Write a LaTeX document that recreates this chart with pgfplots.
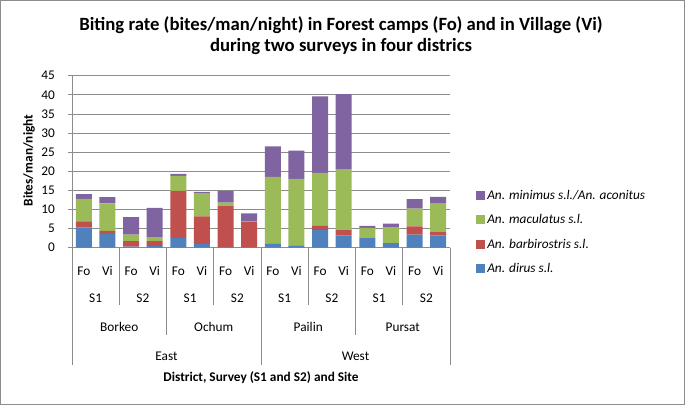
\documentclass[border=0pt]{standalone}
\usepackage{fontspec}
\setmainfont{Carlito}
\usepackage{pgfplots}
\pgfplotsset{compat=1.18}
\definecolor{cblue}{HTML}{4F81BD}
\definecolor{cred}{HTML}{C0504D}
\definecolor{cgreen}{HTML}{9BBB59}
\definecolor{cpurple}{HTML}{8064A2}
\definecolor{gridc}{HTML}{8C8C8C}
\newcommand{\tf}{\fontsize{13.3}{16}\selectfont}
\begin{document}
\begin{tikzpicture}
\path[use as bounding box] (0pt,0pt) rectangle (685pt,405pt);
\draw[color=gridc, line width=0.8pt] (0.5pt,0.5pt) rectangle (684.5pt,404.5pt);
\node[align=center, font=\fontsize{18.7}{20.7}\selectfont\bfseries] at (341pt,369.6pt)
  {Biting rate (bites/man/night) in Forest camps (Fo) and in Village (Vi)\\during two surveys in four districs};
\node[rotate=90, font=\tf\bfseries] at (29pt,244.5pt) {Bites/man/night};
\begin{axis}[
  at={(72pt,157.3pt)}, anchor=south west,
  scale only axis, width=378pt, height=172pt,
  xmin=-0.5, xmax=15.5, ymin=0, ymax=45,
  enlargelimits=false, clip=false,
  ybar stacked, bar width=16pt,
  ytick={0,5,...,45},
  xtick={0,...,15},
  xticklabels={Fo,Vi,Fo,Vi,Fo,Vi,Fo,Vi,Fo,Vi,Fo,Vi,Fo,Vi,Fo,Vi},
  xticklabel style={anchor=base, yshift=-23.5pt, inner sep=0pt},
  yticklabel style={anchor=east, inner sep=0pt, xshift=-13pt},
  /pgf/number format/assume math mode=true,
  tick label style={font=\tf},
  axis x line*=bottom, axis y line*=left,
  axis line style={gridc, line width=0.8pt, -},
  x tick style={draw=none},
  y tick style={gridc, line width=0.8pt},
  tick align=outside, major tick length=4pt,
  ymajorgrids, grid style={gridc, line width=0.8pt},
  legend style={draw=none, fill=none, at={(1.069,0.091)}, anchor=west,
    font=\tf\itshape, row sep=9.5pt, inner sep=0pt},
  legend cell align=left,
  reverse legend,
  legend image code/.code={\fill[#1, draw=none] (0pt,-4.5pt) rectangle (9pt,4.5pt);},
]
\addplot[fill=cblue, draw=none] coordinates {(0,5.3) (1,3.6) (2,0.3) (3,0.5) (4,2.5) (5,1.0) (6,0.2) (7,0.1) (8,1.1) (9,0.6) (10,4.6) (11,3.2) (12,2.5) (13,1.2) (14,3.4) (15,3.2)};
\addplot[fill=cred, draw=none] coordinates {(0,1.6) (1,0.8) (2,1.45) (3,1.25) (4,12.4) (5,7.2) (6,10.7) (7,6.7) (8,0) (9,0) (10,1.1) (11,1.5) (12,0) (13,0) (14,2.2) (15,0.9)};
\addplot[fill=cgreen, draw=none] coordinates {(0,5.9) (1,7.2) (2,1.65) (3,1.05) (4,3.9) (5,6.1) (6,0.9) (7,0.1) (8,17.4) (9,17.4) (10,13.9) (11,15.7) (12,2.7) (13,4.2) (14,4.6) (15,7.4)};
\addplot[fill=cpurple, draw=none] coordinates {(0,1.2) (1,1.6) (2,4.6) (3,7.6) (4,0.5) (5,0.3) (6,3.1) (7,2.1) (8,8.0) (9,7.4) (10,20.0) (11,19.8) (12,0.5) (13,0.9) (14,2.5) (15,1.8)};
\legend{\textit{An. dirus s.l.},\textit{An. barbirostris s.l.},\textit{An. maculatus s.l.},\textit{An. minimus s.l./An. aconitus}}
% category rows
\node[anchor=base, font=\tf, inner sep=0pt] at (axis cs:0.5,0) [yshift=-54.5pt] {S1};
\node[anchor=base, font=\tf, inner sep=0pt] at (axis cs:2.5,0) [yshift=-54.5pt] {S2};
\node[anchor=base, font=\tf, inner sep=0pt] at (axis cs:4.5,0) [yshift=-54.5pt] {S1};
\node[anchor=base, font=\tf, inner sep=0pt] at (axis cs:6.5,0) [yshift=-54.5pt] {S2};
\node[anchor=base, font=\tf, inner sep=0pt] at (axis cs:8.5,0) [yshift=-54.5pt] {S1};
\node[anchor=base, font=\tf, inner sep=0pt] at (axis cs:10.5,0) [yshift=-54.5pt] {S2};
\node[anchor=base, font=\tf, inner sep=0pt] at (axis cs:12.5,0) [yshift=-54.5pt] {S1};
\node[anchor=base, font=\tf, inner sep=0pt] at (axis cs:14.5,0) [yshift=-54.5pt] {S2};
\node[anchor=base, font=\tf, inner sep=0pt] at (axis cs:1.5,0) [yshift=-83.5pt] {Borkeo};
\node[anchor=base, font=\tf, inner sep=0pt] at (axis cs:5.5,0) [yshift=-83.5pt] {Ochum};
\node[anchor=base, font=\tf, inner sep=0pt] at (axis cs:9.5,0) [yshift=-83.5pt] {Pailin};
\node[anchor=base, font=\tf, inner sep=0pt] at (axis cs:13.5,0) [yshift=-83.5pt] {Pursat};
\node[anchor=base, font=\tf, inner sep=0pt] at (axis cs:3.5,0) [yshift=-112.5pt] {East};
\node[anchor=base, font=\tf, inner sep=0pt] at (axis cs:11.5,0) [yshift=-112.5pt] {West};
\node[anchor=base, font=\tf\bfseries, inner sep=0pt] at (axis cs:7.5,0) [yshift=-133.5pt] {District, Survey (S1 and S2) and Site};
% separators
\pgfplotsinvokeforeach{1.5,5.5,9.5,13.5}{
  \draw[gridc, line width=0.8pt] (axis cs:#1,0) -- ++(0pt,-57.3pt);
}
\pgfplotsinvokeforeach{3.5,11.5}{
  \draw[gridc, line width=0.8pt] (axis cs:#1,0) -- ++(0pt,-87pt);
}
\pgfplotsinvokeforeach{-0.5,7.5,15.5}{
  \draw[gridc, line width=0.8pt] (axis cs:#1,0) -- ++(0pt,-117pt);
}
\end{axis}
\end{tikzpicture}
\end{document}
